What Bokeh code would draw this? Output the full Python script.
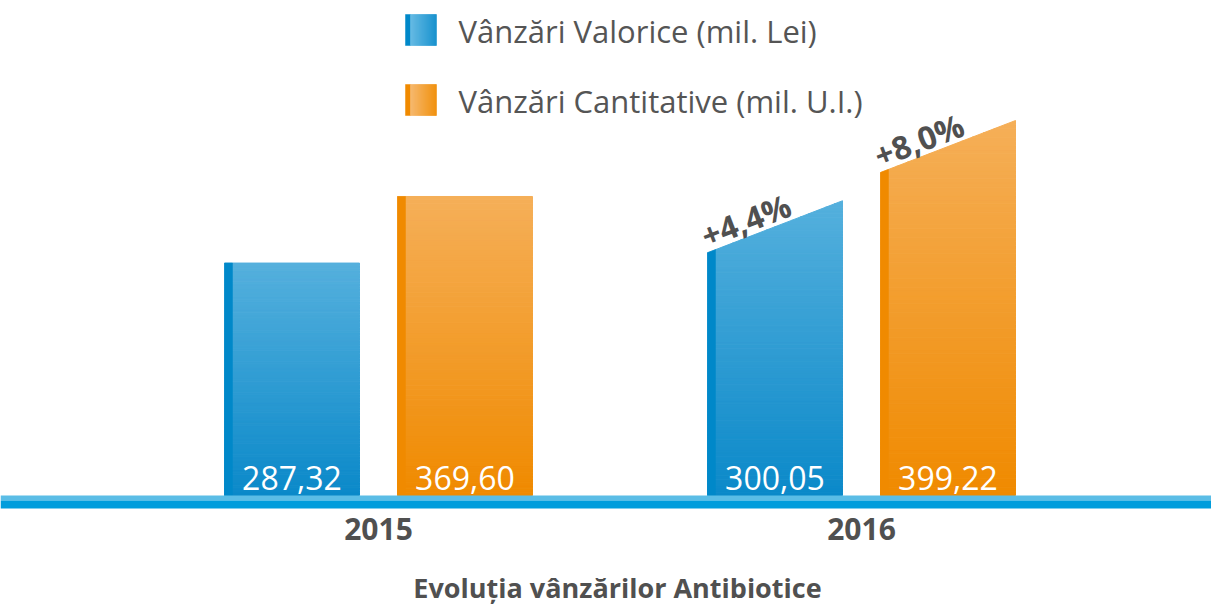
import math
from bokeh.plotting import figure
from bokeh.models import Range1d
from bokeh.core.properties import value
from bokeh.embed import file_html
from bokeh.resources import INLINE

# ---------------- data ----------------
years = ["2015", "2016"]
valorice = [287.32, 300.05]          # mil. Lei
cantitative = [369.60, 399.22]       # mil. U.I.
legend_labels = ["Vânzări Valorice (mil. Lei)", "Vânzări Cantitative (mil. U.I.)"]
chart_title = "Evoluția vânzărilor Antibiotice"

def fmt_val(v):
    return f"{v:.2f}".replace(".", ",")

def fmt_growth(a, b):
    return ("+" if b >= a else "") + f"{(b / a - 1) * 100:.1f}".replace(".", ",") + "%"

# ---------------- layout (pixels) ----------------
W, H = 1211, 607
XS, X0 = 483.0, 378.0      # px per year-group, px of first group centre
YS, Y0 = 0.809, 495.0      # px per value unit, px of baseline from top

def fx(px):
    return (px - X0) / XS

def fy(py):
    return (Y0 - py) / YS

BAR_W = 135.0 / XS
OFF = 86.5 / XS
STRIPE = 8.0 / XS
SLANT = 52.0 / YS           # decorative slanted top on growth year
FONT = value("Open Sans")
GREY = "#505050"

p = figure(width=W, height=H, output_backend="svg", toolbar_location=None,
           x_range=Range1d(fx(0), fx(W)), y_range=Range1d(fy(H), fy(0)),
           x_axis_type=None, y_axis_type=None, min_border=0,
           background_fill_color="white", border_fill_color="white",
           outline_line_color=None)
p.grid.visible = False

def lerp(c1, c2, t):
    return "#%02x%02x%02x" % tuple(int(round(a + (b - a) * t)) for a, b in zip(c1, c2))

def slice_poly(xl, xr, v, s, ya, yb):
    line = lambda x: v + s * (x - xl) / (xr - xl)
    if s == 0:
        if ya >= v:
            return None
        top = min(yb, v)
        return [xl, xr, xr, xl], [ya, ya, top, top]
    xa = xl if line(xl) >= ya else xl + (ya - v) / s * (xr - xl)
    if xa >= xr:
        return None
    xb = xl if line(xl) >= yb else xl + (yb - v) / s * (xr - xl)
    xs = [xa, xr, xr]
    ys = [ya, ya, min(yb, line(xr))]
    if xa < xb < xr:
        xs.append(xb); ys.append(yb)
    xs.append(xa); ys.append(min(yb, line(xa)))
    return xs, ys

series = [
    (valorice, -OFF, (11, 137, 201), (85, 176, 221), "#0088c9"),
    (cantitative, OFF, (240, 138, 0), (245, 175, 88), "#f08a00"),
]

pxs, pys, pcol = [], [], []
sxs, sys_, scol = [], [], []
lab_x, lab_y, lab_t = [], [], []
gr_x, gr_y, gr_t = [], [], []
N = 90
for vals, off, cbot, ctop, cstripe in series:
    for i, v in enumerate(vals):
        s = SLANT if i > 0 else 0.0
        xc = i + off
        xl, xr = xc - BAR_W / 2, xc + BAR_W / 2
        top = v + s
        for k in range(N):
            ya, yb = top * k / N, top * (k + 1) / N
            poly = slice_poly(xl, xr, v, s, ya, yb)
            if poly is None:
                continue
            pxs.append(poly[0]); pys.append(poly[1])
            pcol.append(lerp(cbot, ctop, (k + 0.5) / N))
        xs2 = xl + STRIPE
        sxs.append([xl, xs2, xs2, xl])
        sys_.append([0, 0, v + s * STRIPE / BAR_W, v])
        scol.append(cstripe)
        lab_x.append(xc); lab_y.append(fy(477)); lab_t.append(fmt_val(v))
        if i > 0:
            gr_x.append(xl - 5.0 / XS)
            gr_y.append(v + 16.0 / YS)
            gr_t.append(fmt_growth(vals[i - 1], v))

p.patches(xs=pxs, ys=pys, fill_color=pcol, line_color=pcol, line_width=1)
p.patches(xs=sxs, ys=sys_, fill_color=scol, line_color=scol, line_width=0.5)

# baseline band
p.quad(left=fx(0), right=fx(W), top=fy(495), bottom=fy(500), fill_color="#5bbde6", line_color=None)
p.quad(left=fx(0), right=fx(W), top=fy(500), bottom=fy(508), fill_color="#009ddc", line_color=None)

# value labels inside bars
p.text(x=lab_x, y=lab_y, text=lab_t, text_font=FONT, text_font_size="32px",
       text_color="white", text_align="center", text_baseline="middle")

# growth labels on slanted tops
ang = math.atan2(52.0, 135.0)
p.text(x=gr_x, y=gr_y, text=gr_t, angle=ang, text_font=FONT, text_font_size="32px",
       text_font_style="bold", text_color=GREY, text_align="left", text_baseline="middle")

# year labels
p.text(x=list(range(len(years))), y=[fy(528)] * len(years), text=years, text_font=FONT,
       text_font_size="30px", text_font_style="bold", text_color=GREY,
       text_align="center", text_baseline="middle")

# title at bottom
p.text(x=[fx(617)], y=[fy(587)], text=[chart_title], text_font=FONT, text_font_size="27px",
       text_font_style="bold", text_color=GREY, text_align="center", text_baseline="middle")

# legend
leg_cols = [((93, 182, 226), (10, 139, 203), "#0088c9"), ((245, 180, 102), (240, 138, 0), "#f08a00")]
leg_top = [14, 84]
lxs, lys, lcol = [], [], []
M = 26
for (cl, cd, cs), t in zip(leg_cols, leg_top):
    lxs.append([fx(405), fx(410), fx(410), fx(405)])
    lys.append([fy(t), fy(t), fy(t + 31), fy(t + 31)])
    lcol.append(cs)
    for k in range(M):
        a = 410 + 26 * k / M
        b = 410 + 26 * (k + 1) / M
        lxs.append([fx(a), fx(b), fx(b), fx(a)])
        lys.append([fy(t), fy(t), fy(t + 31), fy(t + 31)])
        lcol.append(lerp(cl, cd, (k + 0.5) / M))
p.patches(xs=lxs, ys=lys, fill_color=lcol, line_color=lcol, line_width=0.5)
p.text(x=[fx(458)] * 2, y=[fy(30), fy(100)], text=legend_labels, text_font=FONT,
       text_font_size="31px", text_color="#555555", text_align="left", text_baseline="middle")

open("out.html", "w").write(file_html(p, INLINE))
